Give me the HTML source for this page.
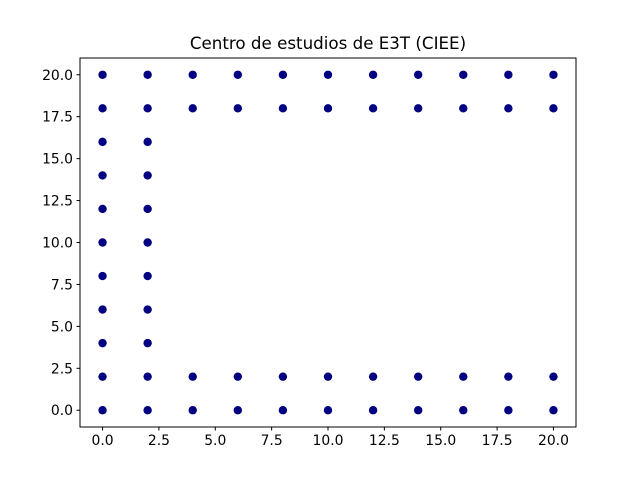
<!DOCTYPE html>
<html><head><meta charset="utf-8">
<style>
html,body{margin:0;padding:0;background:#fff;}
svg{display:block;font-family:"DejaVu Sans","Liberation Sans",sans-serif;}
</style></head>
<body>
<svg id="chart" width="640" height="480" viewBox="0 0 640 480">
<rect width="640" height="480" fill="#fff"/>
<text x="328" y="49" text-anchor="middle" font-size="16.7" fill="#000">Centro de estudios de E3T (CIEE)</text>
<g id="marks"></g>
<rect x="80" y="58" width="496" height="369" fill="none" stroke="#000" stroke-width="1"/>
<g id="xticks"></g>
<g id="yticks"></g>
</svg>
<script>
const rowYs = [0, 2, 18, 20];
const rowXs = [0, 2, 4, 6, 8, 10, 12, 14, 16, 18, 20];
const colXs = [0, 2];
const colYs = [4, 6, 8, 10, 12, 14, 16];
const xTickValues = [0, 2.5, 5, 7.5, 10, 12.5, 15, 17.5, 20];
const xTickLabels = ["0.0", "2.5", "5.0", "7.5", "10.0", "12.5", "15.0", "17.5", "20.0"];
const yTickValues = [0, 2.5, 5, 7.5, 10, 12.5, 15, 17.5, 20];
const yTickLabels = ["0.0", "2.5", "5.0", "7.5", "10.0", "12.5", "15.0", "17.5", "20.0"];

const NS = "http://www.w3.org/2000/svg";
const L = 80, R = 576, T = 58, B = 427;
const xMin = -1, xMax = 21, yMin = -1, yMax = 21;
function xs(v){ return L + (v - xMin) / (xMax - xMin) * (R - L); }
function ys(v){ return B - (v - yMin) / (yMax - yMin) * (B - T); }

const marks = document.getElementById('marks');
function dot(x, y){
  const c = document.createElementNS(NS, 'circle');
  c.setAttribute('cx', xs(x));
  c.setAttribute('cy', ys(y));
  c.setAttribute('r', 4.2);
  c.setAttribute('fill', '#000080');
  
  
  marks.appendChild(c);
}
rowYs.forEach(y => rowXs.forEach(x => dot(x, y)));
colXs.forEach(x => colYs.forEach(y => dot(x, y)));

const xg = document.getElementById('xticks');
xTickValues.forEach((v, i) => {
  const px = xs(v);
  const l = document.createElementNS(NS, 'line');
  l.setAttribute('x1', px); l.setAttribute('x2', px);
  l.setAttribute('y1', B); l.setAttribute('y2', B + 3.5);
  l.setAttribute('stroke', '#000');
  
  
  xg.appendChild(l);
  const t = document.createElementNS(NS, 'text');
  t.setAttribute('x', px); t.setAttribute('y', B + 18);
  t.setAttribute('text-anchor', 'middle');
  t.setAttribute('font-size', '13.9');
  t.textContent = xTickLabels[i];
  
  
  xg.appendChild(t);
});
const yg = document.getElementById('yticks');
yTickValues.forEach((v, i) => {
  const py = ys(v);
  const l = document.createElementNS(NS, 'line');
  l.setAttribute('x1', L - 3.5); l.setAttribute('x2', L);
  l.setAttribute('y1', py); l.setAttribute('y2', py);
  l.setAttribute('stroke', '#000');
  
  
  yg.appendChild(l);
  const t = document.createElementNS(NS, 'text');
  t.setAttribute('x', L - 7); t.setAttribute('y', py + 5);
  t.setAttribute('text-anchor', 'end');
  t.setAttribute('font-size', '13.9');
  t.textContent = yTickLabels[i];
  
  
  yg.appendChild(t);
});
</script>
</body></html>
